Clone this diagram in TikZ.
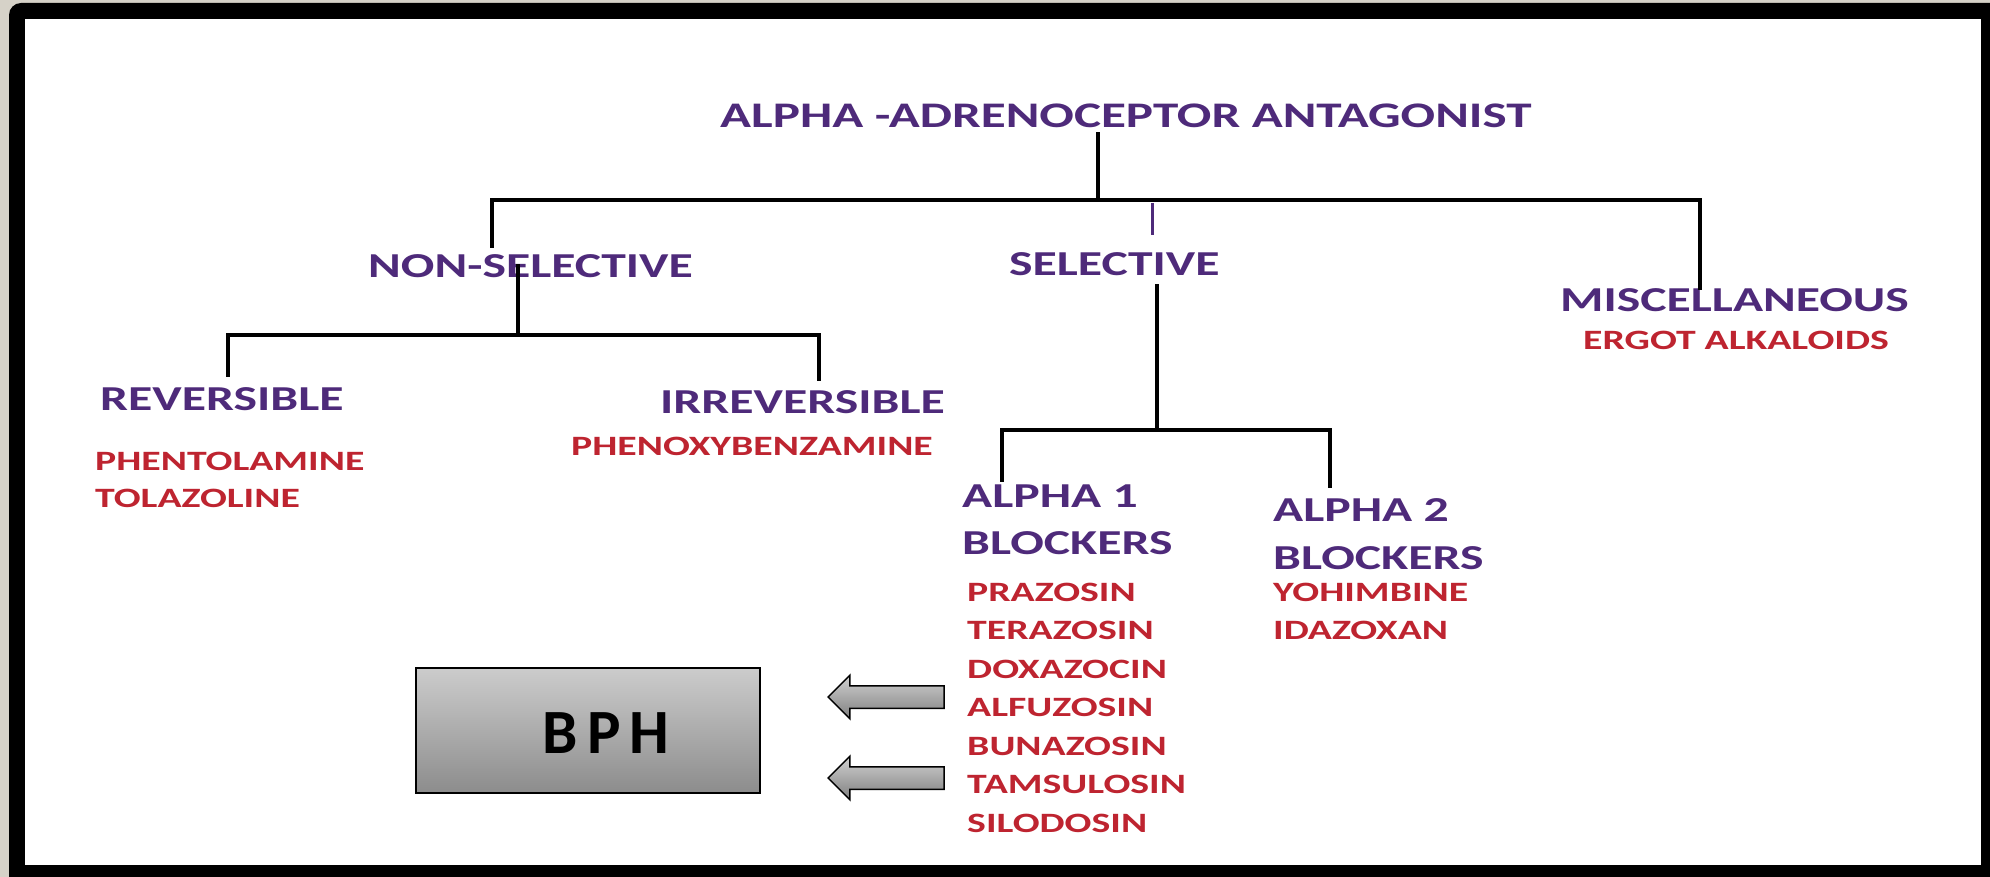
\documentclass[tikz,border=0pt]{standalone}
\usepackage{fontspec}
\setmainfont{Carlito}
\newfontfamily\widefont[FakeStretch=1.42]{Carlito}
\usetikzlibrary{shapes.arrows}
\definecolor{headpurple}{RGB}{78,42,122}
\definecolor{drugred}{RGB}{190,36,48}
\definecolor{framebeige}{RGB}{214,210,200}
\tikzset{
  head/.style={anchor=west, inner sep=0pt, text=headpurple, font=\widefont\bfseries\fontsize{35}{40}\selectfont},
  drug/.style={anchor=west, inner sep=0pt, text=drugred, font=\widefont\bfseries\fontsize{28}{32}\selectfont},
  branch/.style={line width=4pt, line cap=rect},
  tick/.style={line width=3pt, headpurple},
  bphbox/.style={draw, line width=1.5pt, top color=black!20, bottom color=black!45, minimum width=344pt, minimum height=125pt},
  grayarrow/.style={single arrow, shape border rotate=180, draw, line width=1.5pt, top color=black!18, bottom color=black!50, minimum height=116pt, inner xsep=0pt, inner ysep=10.5pt, single arrow head extend=10.5pt, anchor=tip}
}
\begin{document}
\begin{tikzpicture}[x=1pt,y=-1pt]
        \useasboundingbox (0,0) rectangle (1990,877);
        \clip (0,0) rectangle (1990,877);
        % frame
        \fill[framebeige] (0,0) rectangle (1990,877);
        \fill[black, rounded corners=12pt] (9,3) rectangle (2030,920);
        \fill[white] (25,19) rectangle (1981,865);

        % labels
        \node[head, font=\widefont\bfseries\fontsize{36}{40}\selectfont] (title) at (720,115.5) {ALPHA -ADRENOCEPTOR ANTAGONIST};
        \node[head] (nonsel) at (368,266) {NON-SELECTIVE};
        \node[head] (sel) at (1009,264) {SELECTIVE};
        \node[head] (misc) at (1560,300) {MISCELLANEOUS};
        \node[drug] (ergot) at (1583,340) {ERGOT ALKALOIDS};
        \node[head] (rev) at (100,399) {REVERSIBLE};
        \node[drug] (phent) at (95,461) {PHENTOLAMINE};
        \node[drug] (tola) at (95,498) {TOLAZOLINE};
        \node[head] (irrev) at (660,402) {IRREVERSIBLE};
        \node[drug] (phenoxy) at (571,446) {PHENOXYBENZAMINE};
        \node[head] (alphaA) at (962,496) {ALPHA 1};
        \node[head] (blockA) at (962,543) {BLOCKERS};
        \node[head] (alphaB) at (1273,510) {ALPHA 2};
        \node[head] (blockB) at (1273,558) {BLOCKERS};
        \foreach \drugname [count=\i from 0] in {PRAZOSIN,TERAZOSIN,DOXAZOCIN,ALFUZOSIN,BUNAZOSIN,TAMSULOSIN,SILODOSIN}
            \node[drug] (aone-\i) at (967,592+38.5*\i) {\drugname};
        \node[drug] (yohim) at (1273,592) {YOHIMBINE};
        \node[drug] (idaz) at (1273,630) {IDAZOXAN};

        % junctions
        \coordinate (top) at (1098,200);
        \coordinate (barL) at (492,200);
        \coordinate (barR) at (1700,200);
        \coordinate (nsBar) at (518,335);
        \coordinate (nsL) at (228,335);
        \coordinate (nsR) at (819,335);
        \coordinate (sBar) at (1157,430);
        \coordinate (sL) at (1002,430);
        \coordinate (sR) at (1330,430);
        \coordinate (selTick) at (1152,203);

        \draw[branch] ([yshift=-6pt]top |- title.south) -- (top);
        \draw[branch, shorten <=8pt] (barL |- nonsel.north) -- (barL) -- (barR) -- (barR |- misc.north);
        \draw[tick] (selTick) -- ++(0,32);
        \draw[branch] (nsBar |- nonsel.center) -- (nsBar);
        \draw[branch, shorten <=12pt, shorten >=11pt] (nsL |- rev.north) -- (nsL) -- (nsR) -- (nsR |- irrev.north);
        \draw[branch] ([yshift=-10pt]sBar |- sel.south) -- (sBar);
        \draw[branch, shorten <=4pt, shorten >=12pt] (sL |- alphaA.north) -- (sL) -- (sR) -- (sR |- alphaB.north);

        % BPH
        \node[bphbox] (bph) at (588,730.5) {};
        \node[font=\bfseries\fontsize{63}{70}\selectfont, inner sep=0pt] (bphtext) at (606,733) {B\kern9pt P\kern9pt H};
        \node[grayarrow] (arrowA) at (827,697) {};
        \node[grayarrow] (arrowB) at (827,778) {};
    \end{tikzpicture}
\end{document}
